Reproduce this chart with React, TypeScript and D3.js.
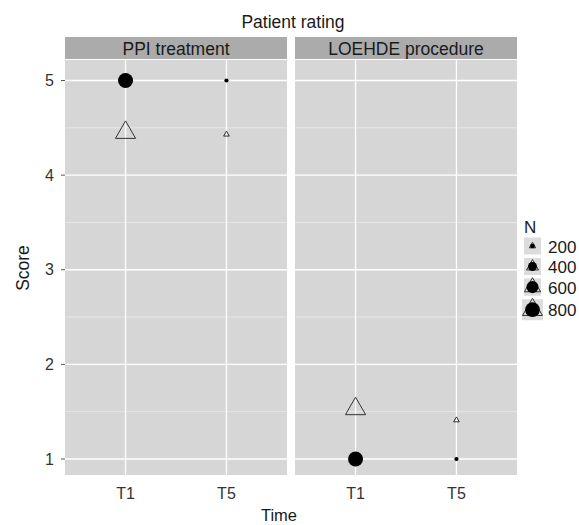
import React from 'react';
import * as d3 from 'd3';

const title = 'Patient rating';
const facets = ['PPI treatment', 'LOEHDE procedure'];
const times = ['T1', 'T5'];
// circle = filled points, triangle = open points
const circleScores = [[5, 5], [1, 1]];
const triangleScores = [[4.45, 4.43], [1.53, 1.41]];
const nValues = [[820, 180], [820, 180]];
const legendBreaks = [200, 400, 600, 800];
const yTicks = [1, 2, 3, 4, 5];
const yMinor = [1.5, 2.5, 3.5, 4.5];

const W = 579;
const H = 525;
const font = '"Liberation Sans", Arial, Helvetica, sans-serif';

const panelTop = 60;
const panelBottom = 475;
const stripTop = 37;
const panels = [
  { left: 65, right: 287 },
  { left: 295, right: 517 },
];

const yScale = d3.scaleLinear().domain([1, 5]).range([459, 80.5]);
const rScale = d3.scaleSqrt().domain([150, 820]).range([1.7, 7.5]);

// R-style open triangle (pch 2) centred on the point
function triPath(cx: number, cy: number, R: number) {
  const r = 1.555 * R;
  const xc = 1.347 * R;
  const yc = 0.778 * R;
  return `M${cx},${cy - r}L${cx + xc},${cy + yc}L${cx - xc},${cy + yc}Z`;
}

function Panel({ idx }: { idx: number }) {
  const p = panels[idx];
  // discrete scale, 0.6 expansion each side
  const xScale = d3
    .scaleLinear()
    .domain([0.4, 2.6])
    .range([p.left, p.right]);
  const x = (t: string) => xScale(times.indexOf(t) + 1);
  return (
    <g>
      <rect x={p.left} y={stripTop} width={p.right - p.left} height={panelTop - stripTop - 1} fill="#ababab" />
      <text
        x={(p.left + p.right) / 2}
        y={55}
        textAnchor="middle"
        fontSize={17.5}
        fill="#1a1a1a"
        fontFamily={font}
      >
        {facets[idx]}
      </text>
      <rect x={p.left} y={panelTop} width={p.right - p.left} height={panelBottom - panelTop} fill="#d6d6d6" />
      {yMinor.map((v) => (
        <line key={'m' + v} x1={p.left} x2={p.right} y1={yScale(v)} y2={yScale(v)} stroke="#efefef" strokeWidth={0.7} />
      ))}
      {yTicks.map((v) => (
        <line key={'M' + v} x1={p.left} x2={p.right} y1={yScale(v)} y2={yScale(v)} stroke="#ffffff" strokeWidth={1.3} />
      ))}
      {times.map((t) => (
        <line key={t} x1={x(t)} x2={x(t)} y1={panelTop} y2={panelBottom} stroke="#ffffff" strokeWidth={1.3} />
      ))}
      {times.map((t, j) => (
        <path
          key={'tri' + t}
          d={triPath(x(t), yScale(triangleScores[idx][j]), rScale(nValues[idx][j]))}
          fill="none"
          stroke="#333333"
          strokeWidth={1}
        />
      ))}
      {times.map((t, j) => (
        <circle key={'c' + t} cx={x(t)} cy={yScale(circleScores[idx][j])} r={rScale(nValues[idx][j])} fill="#000000" />
      ))}
      {times.map((t) => (
        <text key={'lab' + t} x={x(t)} y={498.5} textAnchor="middle" fontSize={16} fill="#333333" fontFamily={font}>
          {t}
        </text>
      ))}
    </g>
  );
}

function Legend() {
  const cx = 532.5;
  let y = 237.5;
  const items = legendBreaks.map((b) => {
    const R = rScale(b);
    const h = Math.max(17, 2.85 * R);
    const item = { b, R, y, h };
    y += h + 3.5;
    return item;
  });
  return (
    <g>
      <text x={524} y={233} fontSize={17} fill="#1a1a1a" fontFamily={font}>
        N
      </text>
      {items.map((it) => {
        const cy = it.y + it.h / 2;
        return (
          <g key={it.b}>
            <rect x={cx - it.h / 2} y={it.y} width={it.h} height={it.h} fill="#dcdcdc" />
            <path d={triPath(cx, cy, it.R)} fill="none" stroke="#333333" strokeWidth={1} />
            <circle cx={cx} cy={cy} r={it.R} fill="#000000" />
            <text x={548} y={cy + 6.5} fontSize={17} fill="#1a1a1a" fontFamily={font}>
              {it.b}
            </text>
          </g>
        );
      })}
    </g>
  );
}

export default function App() {
  return (
    <svg width={W} height={H} style={{ display: 'block', position: 'absolute', left: 0, top: 0 }}>
      <rect width={W} height={H} fill="#ffffff" />
      <text x={293} y={28} textAnchor="middle" fontSize={17.5} fill="#1a1a1a" fontFamily={font}>
        {title}
      </text>
      {panels.map((_, i) => (
        <Panel key={i} idx={i} />
      ))}
      {yTicks.map((v) => (
        <g key={v}>
          <line x1={61} x2={65} y1={yScale(v)} y2={yScale(v)} stroke="#555555" strokeWidth={1} />
          <text x={54} y={yScale(v) + 5.5} textAnchor="end" fontSize={16} fill="#333333" fontFamily={font}>
            {v}
          </text>
        </g>
      ))}
      <text
        transform={`translate(29,${268}) rotate(-90)`}
        textAnchor="middle"
        fontSize={17.5}
        fill="#1a1a1a"
        fontFamily={font}
      >
        Score
      </text>
      <text x={279} y={521} textAnchor="middle" fontSize={16.5} fill="#1a1a1a" fontFamily={font}>
        Time
      </text>
      <Legend />
    </svg>
  );
}
